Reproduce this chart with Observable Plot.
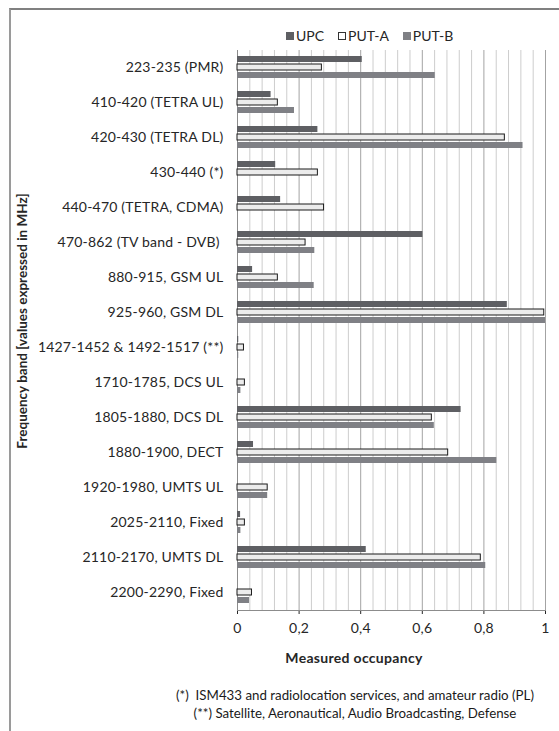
<!DOCTYPE html>
<html>
<head>
<meta charset="utf-8">
<script src="https://cdn.jsdelivr.net/npm/d3@7"></script>
<script src="https://cdn.jsdelivr.net/npm/@observablehq/plot@0.6"></script>
<style>
  html, body { margin: 0; padding: 0; background: #fff; }
  #page { position: relative; width: 559px; height: 731px; overflow: hidden; font-family: Lato, "Open Sans", sans-serif; color: #262626; }
  #border { position: absolute; left: 9px; top: 8px; width: 700px; height: 800px; border-top: 2px solid #808080; border-left: 2px solid #9a9a9a; }
  #chart { position: absolute; left: 0; top: 0; }
  #legend { position: absolute; top: 27px; left: 286px; display: flex; align-items: center; font-size: 14px; white-space: nowrap; }
  #legend .item { display: flex; align-items: center; margin-right: 14px; }
  #legend .sw { width: 8px; height: 8px; margin-right: 2px; box-sizing: border-box; }
  #ytitle { position: absolute; left: 22px; top: 321px; transform: translate(-50%, -50%) rotate(-90deg); font-size: 13.5px; font-weight: bold; white-space: nowrap; }
  #xtitle { position: absolute; left: 354px; top: 657px; transform: translate(-50%, -50%); font-size: 14px; letter-spacing: 0.3px; font-weight: bold; white-space: nowrap; }
  #notes { position: absolute; left: 355px; top: 686px; transform: translateX(-50%); font-size: 13.3px; line-height: 18px; text-align: center; white-space: nowrap; color: #1a1a1a; }
</style>
</head>
<body>
<div id="page">
  <div id="border"></div>
  <div id="chart"></div>
  <div id="legend"></div>
  <div id="ytitle">Frequency band [values expressed in MHz]</div>
  <div id="xtitle">Measured occupancy</div>
  <div id="notes">
    <div>(*)&nbsp; ISM433 and radiolocation services, and amateur radio (PL)</div>
    <div>(**) Satellite, Aeronautical, Audio Broadcasting, Defense</div>
  </div>
</div>
<script>
// Frequency bands (MHz), top to bottom
const bands = [
  "223-235 (PMR)",
  "410-420 (TETRA UL)",
  "420-430 (TETRA DL)",
  "430-440 (*)",
  "440-470 (TETRA, CDMA)",
  "470-862 (TV band - DVB)\u00a0",
  "880-915, GSM UL",
  "925-960, GSM DL",
  "1427-1452 & 1492-1517 (**)",
  "1710-1785, DCS UL",
  "1805-1880, DCS DL",
  "1880-1900, DECT",
  "1920-1980, UMTS UL",
  "2025-2110, Fixed",
  "2110-2170, UMTS DL",
  "2200-2290, Fixed"
];

const series = ["UPC", "PUT-A", "PUT-B"];

// Measured occupancy per band for each measurement site
const upc  = [0.405, 0.109, 0.261, 0.124, 0.140, 0.602, 0.049, 0.876, 0.004, 0.000, 0.726, 0.052, 0.000, 0.010, 0.418, 0.000];
const putA = [0.274, 0.131, 0.868, 0.261, 0.281, 0.221, 0.131, 0.996, 0.021, 0.024, 0.631, 0.684, 0.098, 0.024, 0.790, 0.047];
const putB = [0.642, 0.185, 0.927, 0.000, 0.000, 0.251, 0.249, 1.000, 0.004, 0.011, 0.639, 0.842, 0.098, 0.011, 0.806, 0.039];

const xTicks = [0, 0.2, 0.4, 0.6, 0.8, 1];

const colors = {"UPC": "#5e5f63", "PUT-A": "#ececec", "PUT-B": "#7f8085"};

const rows = bands.flatMap((band, i) => [
  {band, series: "UPC", value: upc[i]},
  {band, series: "PUT-A", value: putA[i]},
  {band, series: "PUT-B", value: putB[i]}
]);

// light vertical gridlines every 0.04, darker ones at the labelled ticks
const minorGrid = d3.range(1, 25).map(k => k * 0.04).filter(v => Math.abs(v / 0.2 - Math.round(v / 0.2)) > 1e-6);
const majorGrid = xTicks.slice(1);

const chart = Plot.plot({
  width: 559,
  height: 650,
  marginLeft: 237,
  marginRight: 14,
  marginTop: 45,
  marginBottom: 35,
  style: {fontFamily: "Lato, 'Open Sans', sans-serif", fontSize: "14px", letterSpacing: "0.2px", color: "#262626", background: "transparent", overflow: "visible"},
  x: {domain: [0, 1], ticks: xTicks, tickFormat: d => String(d).replace(".", ","), tickSize: 4, tickPadding: 9, label: null},
  y: {domain: series, axis: null, paddingInner: 0.24, paddingOuter: 0.72},
  fy: {domain: bands, padding: 0, label: null, axis: "left", tickSize: 0, tickPadding: 14},
  color: {domain: series, range: series.map(s => colors[s])},
  marks: [
    Plot.ruleX(minorGrid, {stroke: "#cdcdcd"}),
    Plot.ruleX(majorGrid, {stroke: "#a3a3a3"}),
    Plot.ruleX([0], {stroke: "#8c8c8c"}),
    Plot.frame({anchor: "bottom", facetAnchor: "bottom", stroke: "#8c8c8c"}),
    Plot.barX(rows, {filter: d => d.series !== "PUT-A" && d.value > 0, fy: "band", y: "series", x: "value", fill: "series"}),
    Plot.barX(rows, {filter: d => d.series === "PUT-A", fy: "band", y: "series", x: "value", fill: colors["PUT-A"], stroke: "#1a1a1a", strokeWidth: 1})
  ]
});
document.getElementById("chart").appendChild(chart);

// legend
const legend = document.getElementById("legend");
for (const s of series) {
  const item = document.createElement("div");
  item.className = "item";
  const sw = document.createElement("div");
  sw.className = "sw";
  sw.style.background = s === "PUT-A" ? "#fff" : colors[s];
  if (s === "PUT-A") sw.style.border = "1px solid #333";
  const label = document.createElement("span");
  label.textContent = s;
  item.appendChild(sw);
  item.appendChild(label);
  legend.appendChild(item);
}
</script>
</body>
</html>
